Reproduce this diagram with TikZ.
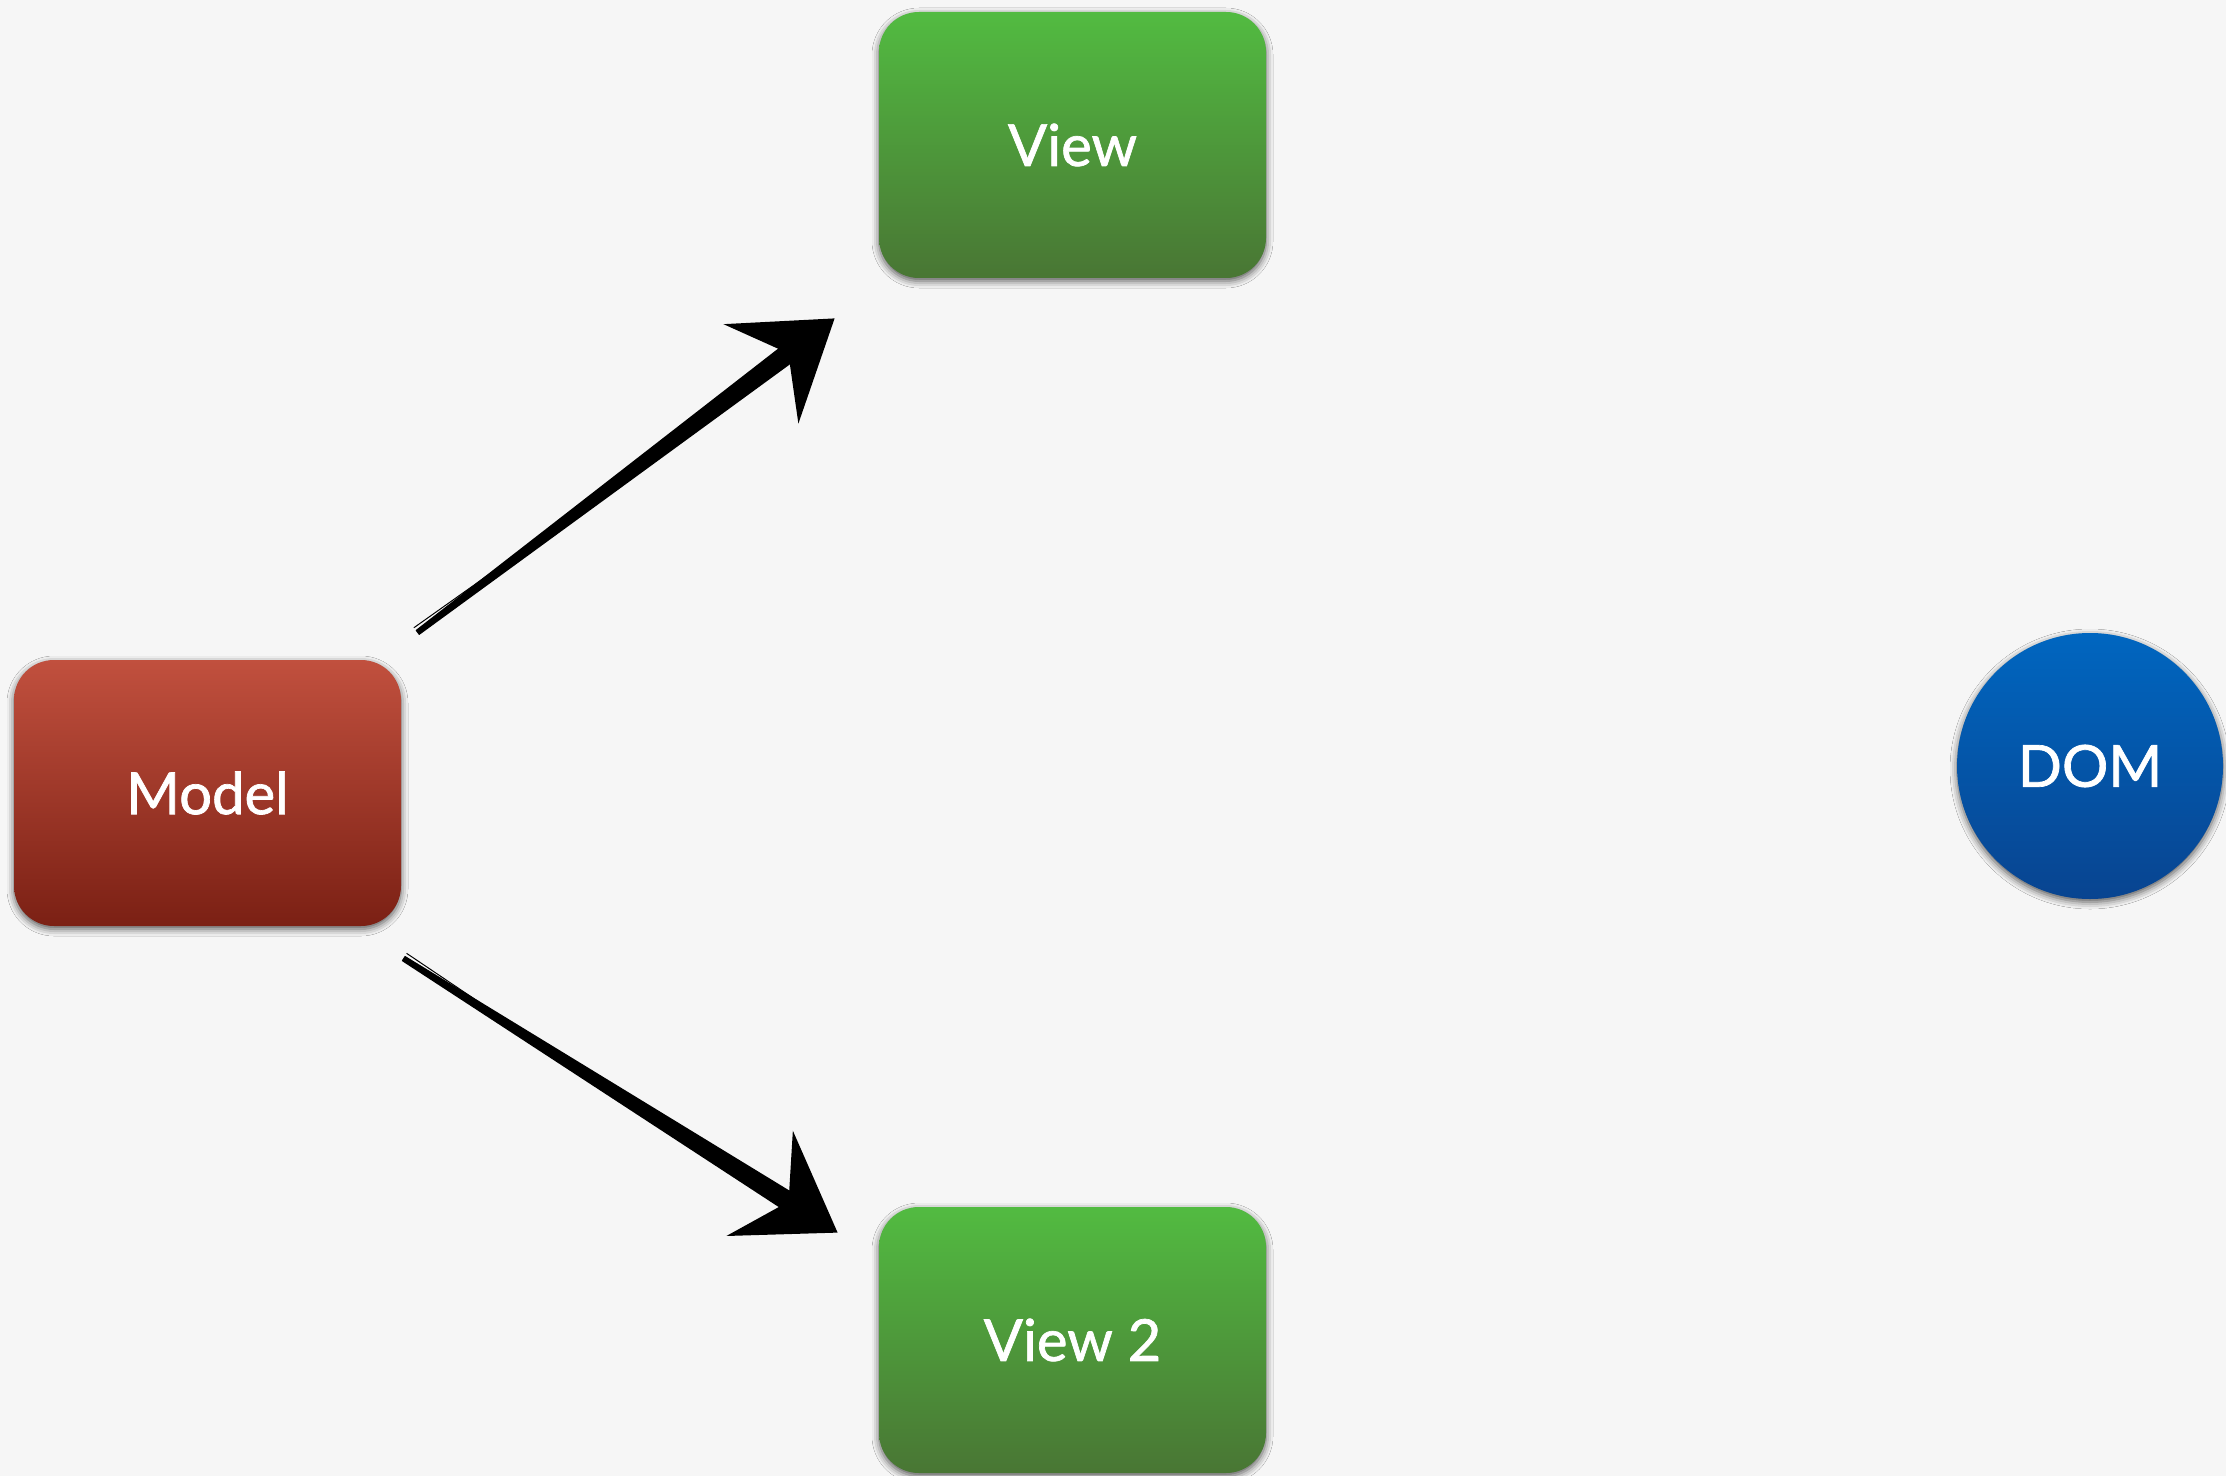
\documentclass[tikz,border=0pt]{standalone}
\usepackage{fontspec}
\setmainfont{Lato}
\newfontfamily\boxfont{Lato}[FakeBold=1.2]
\usetikzlibrary{arrows.meta,calc,shadows.blur}

\definecolor{bgcol}{RGB}{246,246,246}
\definecolor{viewtop}{RGB}{82,187,65}
\definecolor{viewbottom}{RGB}{73,118,52}
\definecolor{modeltop}{RGB}{193,80,62}
\definecolor{modelbottom}{RGB}{123,32,20}
\definecolor{domtop}{RGB}{0,102,192}
\definecolor{dombottom}{RGB}{8,68,144}

\tikzset{
  soft/.style={blur shadow={shadow xshift=0pt, shadow yshift=-1.5pt, shadow blur radius=3.5pt, shadow opacity=65}},
  label/.style={text=white, font=\fontsize{29}{34}\selectfont\boxfont},
  box/.style={rectangle, rounded corners=20pt, minimum width=193.5pt, minimum height=133pt, label, soft},
  viewbox/.style={box, top color=viewtop, bottom color=viewbottom},
  modelbox/.style={box, top color=modeltop, bottom color=modelbottom},
  domcircle/.style={circle, minimum size=133pt, inner sep=0pt, label,
    top color=domtop, bottom color=dombottom, soft},
  sketch/.style={line width=2.5pt, -{Stealth[length=46pt,width=62pt,inset=17pt]}},
}

% tapered brush shaft from #1 to #2
\newcommand{\brushstroke}[2]{%
  \coordinate (mid) at ($(#1)!0.9!(#2)$);
  \fill ($(#1)!1.5pt!90:(#2)$) -- ($(mid)!5pt!90:(#2)$) -- ($(mid)!5pt!-90:(#2)$) -- ($(#1)!1.5pt!-90:(#2)$) -- cycle;
  \draw[line width=0.5pt] ($(#1)!3pt!90:(#2)$) -- ($(#1)!0.4!(#2)$);
}

\begin{document}
\begin{tikzpicture}[x=0.5pt,y=-0.5pt]
  \fill[bgcol] (0,0) rectangle (2226,1476);
  \useasboundingbox (0,0) rectangle (2226,1476);

  \node[viewbox] (view) at (1072.5,145) {View};
  \node[modelbox] (model) at (207.5,793) {Model};
  \node[viewbox] (view2) at (1072.5,1340) {View 2};
  \node[domcircle] (dom) at (2090,766) {DOM};

  \coordinate (m1) at ([shift={(16,-27)}]model.north east);
  \coordinate (v1) at ([shift={(-44,40)}]view.south west);
  \coordinate (m2) at ([shift={(2,32)}]model.south east);
  \coordinate (v2) at ([shift={(-41,26)}]view2.north west);

  \brushstroke{m1}{v1}
  \draw[sketch] (m1) -- (v1);
  \brushstroke{m2}{v2}
  \draw[sketch] (m2) -- (v2);
\end{tikzpicture}
\end{document}
